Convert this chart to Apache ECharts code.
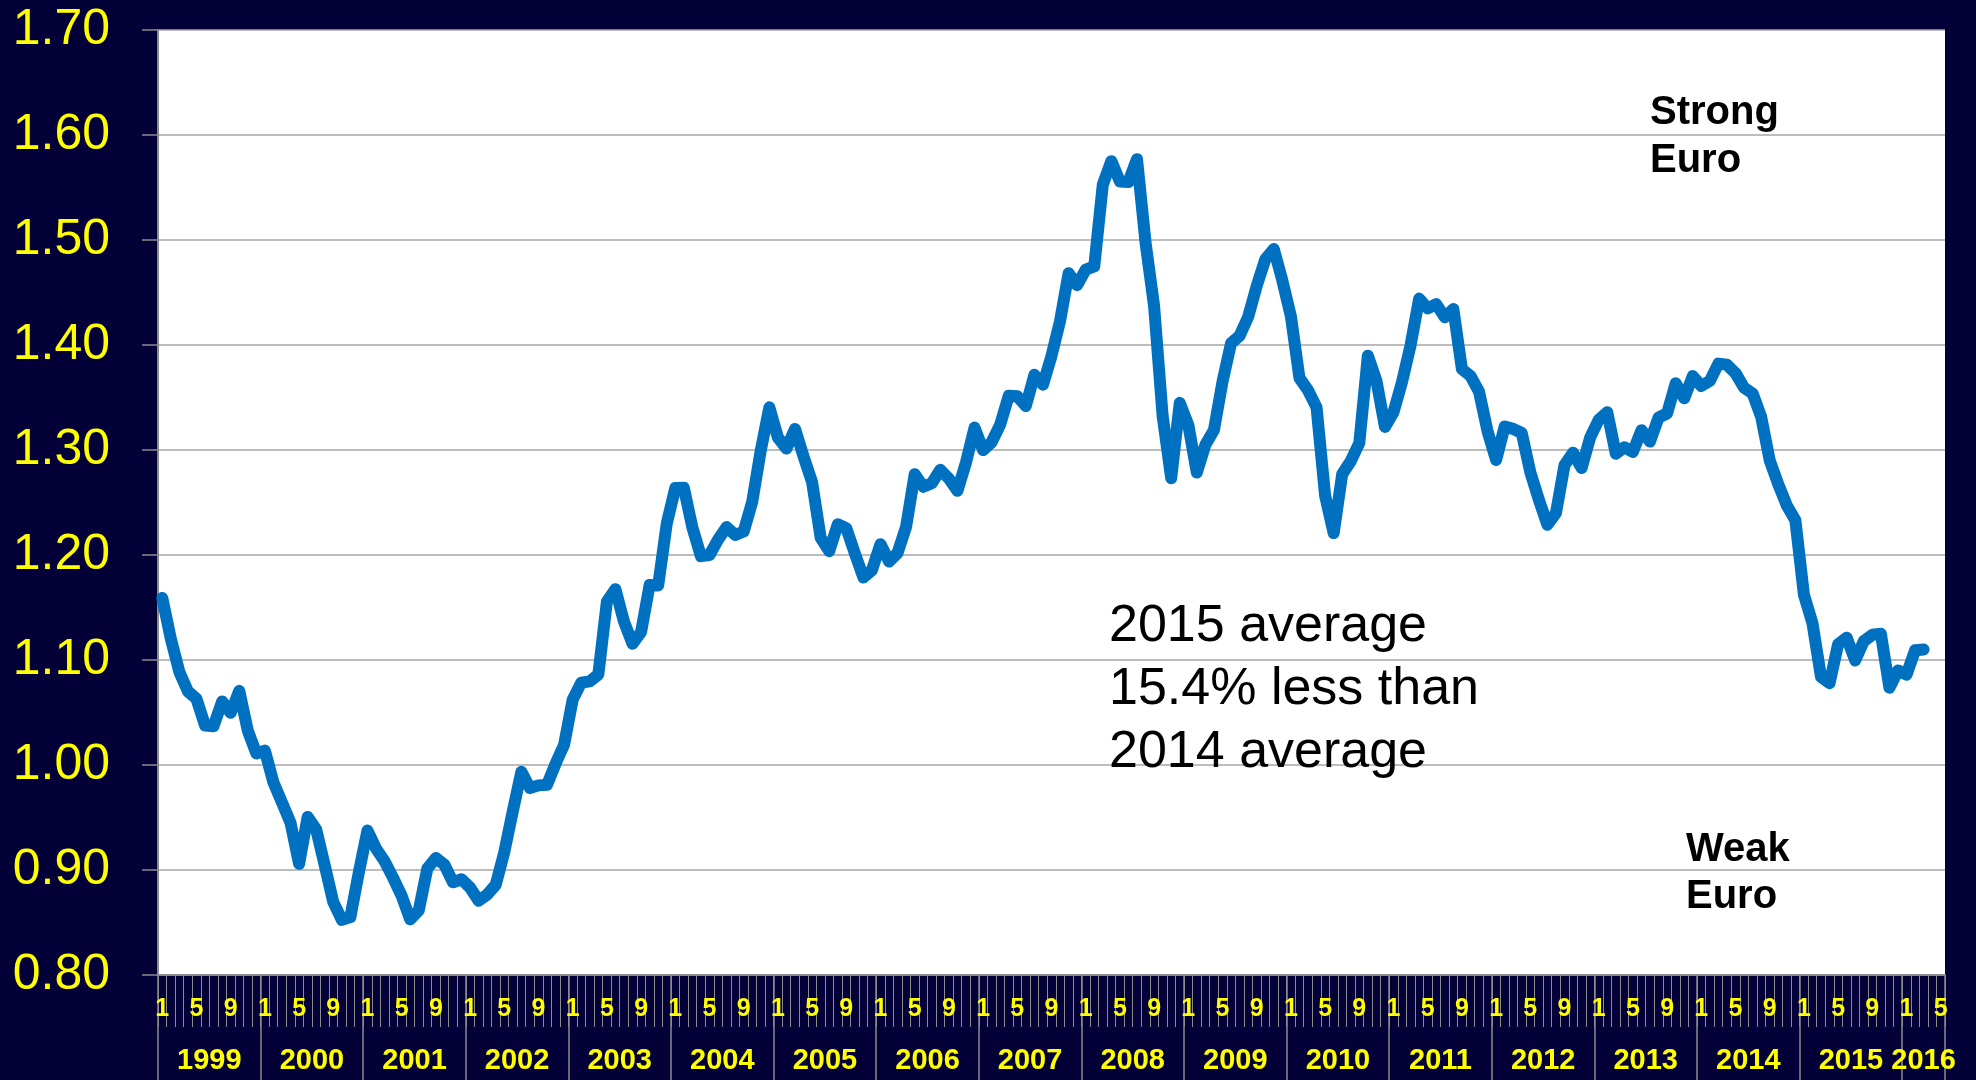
<!DOCTYPE html>
<html>
<head>
<meta charset="utf-8">
<script src="https://cdn.jsdelivr.net/npm/echarts@6/dist/echarts.min.js"></script>
<style>
  html, body { margin: 0; padding: 0; background: #040038; }
  #chart { width: 1976px; height: 1080px; }
</style>
</head>
<body>
<div id="chart"></div>
<script>
// ---- Data ----
const yearLabels = ['1999','2000','2001','2002','2003','2004','2005','2006','2007','2008','2009','2010','2011','2012','2013','2014','2015','2016'];
const monthsInYear = [12,12,12,12,12,12,12,12,12,12,12,12,12,12,12,12,12,5];
const monthLabels = ['1','2','3','4','5','6','7','8','9','10','11','12'];
const yTicks = [0.80, 0.90, 1.00, 1.10, 1.20, 1.30, 1.40, 1.50, 1.60, 1.70];

// USD per EUR, monthly averages, Jan 1999 - Mar 2016
const rates = [
  1.1591, 1.1203, 1.0886, 1.0701, 1.0630, 1.0377, 1.0370, 1.0605, 1.0497, 1.0706, 1.0328, 1.0110, // 1999
  1.0137, 0.9834, 0.9643, 0.9449, 0.9059, 0.9505, 0.9386, 0.9045, 0.8695, 0.8525, 0.8552, 0.8983, // 2000
  0.9376, 0.9205, 0.9083, 0.8925, 0.8753, 0.8530, 0.8615, 0.9014, 0.9114, 0.9050, 0.8883, 0.8912, // 2001
  0.8832, 0.8707, 0.8766, 0.8860, 0.9170, 0.9561, 0.9935, 0.9781, 0.9806, 0.9812, 1.0013, 1.0194, // 2002
  1.0622, 1.0785, 1.0797, 1.0862, 1.1556, 1.1674, 1.1365, 1.1155, 1.1267, 1.1714, 1.1710, 1.2298, // 2003
  1.2638, 1.2640, 1.2261, 1.1989, 1.2000, 1.2146, 1.2266, 1.2191, 1.2224, 1.2507, 1.2997, 1.3406, // 2004
  1.3119, 1.3014, 1.3201, 1.2938, 1.2694, 1.2165, 1.2037, 1.2292, 1.2256, 1.2015, 1.1786, 1.1856, // 2005
  1.2103, 1.1938, 1.2020, 1.2271, 1.2770, 1.2650, 1.2684, 1.2811, 1.2727, 1.2611, 1.2881, 1.3213, // 2006
  1.2999, 1.3074, 1.3242, 1.3516, 1.3511, 1.3419, 1.3716, 1.3622, 1.3896, 1.4227, 1.4684, 1.4570, // 2007
  1.4718, 1.4748, 1.5527, 1.5751, 1.5557, 1.5553, 1.5770, 1.4975, 1.4370, 1.3322, 1.2732, 1.3449, // 2008
  1.3239, 1.2785, 1.3050, 1.3190, 1.3650, 1.4016, 1.4088, 1.4268, 1.4562, 1.4816, 1.4914, 1.4614, // 2009
  1.4272, 1.3686, 1.3569, 1.3406, 1.2565, 1.2209, 1.2770, 1.2894, 1.3067, 1.3898, 1.3661, 1.3220, // 2010
  1.3360, 1.3649, 1.3999, 1.4442, 1.4349, 1.4388, 1.4264, 1.4343, 1.3770, 1.3706, 1.3556, 1.3179, // 2011
  1.2905, 1.3224, 1.3201, 1.3162, 1.2789, 1.2526, 1.2288, 1.2400, 1.2856, 1.2974, 1.2828, 1.3119, // 2012
  1.3288, 1.3359, 1.2964, 1.3026, 1.2982, 1.3189, 1.3080, 1.3310, 1.3348, 1.3635, 1.3493, 1.3704, // 2013
  1.3610, 1.3659, 1.3823, 1.3813, 1.3732, 1.3592, 1.3539, 1.3316, 1.2901, 1.2673, 1.2472, 1.2331, // 2014
  1.1621, 1.1350, 1.0838, 1.0779, 1.1150, 1.1213, 1.0996, 1.1180, 1.1240, 1.1250, 1.0736, 1.0900, // 2015
  1.0860, 1.1093, 1.1100                                                                          // 2016
];

const noteStrong = 'Strong\nEuro';
const noteWeak = 'Weak\nEuro';
const noteAvg = '2015 average\n15.4% less than\n2014 average';

// ---- Build axis structures from the arrays ----
const categories = [];
const yearStarts = [];
const yearCenters = [];
let acc = 0;
yearLabels.forEach((y, i) => {
  yearStarts.push(acc);
  yearCenters.push(acc + monthsInYear[i] / 2);
  for (let m = 0; m < monthsInYear[i]; m++) categories.push(y + '-' + monthLabels[m]);
  acc += monthsInYear[i];
});
yearStarts.push(acc);
const totalMonths = acc;

const FONT = "'Liberation Sans', Arial, sans-serif";
const YELLOW = '#FFFF00';
const AXIS_GRAY = '#8C8C8C';

const chart = echarts.init(document.getElementById('chart'), null, { renderer: 'canvas' });
chart.setOption({
  backgroundColor: '#040038',
  animation: false,
  grid: {
    left: 158, top: 30, right: 31, bottom: 105,
    show: true, backgroundColor: '#FFFFFF', borderWidth: 0,
    containLabel: false, outerBoundsMode: 'none'
  },
  xAxis: [
    {
      type: 'category',
      data: categories,
      boundaryGap: true,
      position: 'bottom',
      axisLine: { show: true, lineStyle: { color: AXIS_GRAY, width: 2 } },
      axisTick: { show: true, interval: 0, length: 52, lineStyle: { color: AXIS_GRAY, width: 1 } },
      axisLabel: {
        show: true, interval: 3, margin: 22,
        color: YELLOW, fontSize: 25, fontWeight: 'bold', fontFamily: FONT,
        formatter: (v) => v.split('-')[1]
      },
      splitLine: { show: false }
    },
    {
      type: 'value',
      min: 0, max: totalMonths,
      position: 'bottom',
      offset: 0,
      axisLine: { show: false },
      axisTick: { show: true, customValues: yearStarts, length: 105, lineStyle: { color: AXIS_GRAY, width: 1.5 } },
      axisLabel: {
        show: true, customValues: yearCenters, margin: 71,
        color: YELLOW, fontSize: 29, fontWeight: 'bold', fontFamily: FONT,
        formatter: (v) => { const i = yearCenters.indexOf(v); return i >= 0 ? yearLabels[i] : ''; }
      },
      splitLine: { show: false }
    }
  ],
  yAxis: {
    type: 'value',
    min: yTicks[0], max: yTicks[yTicks.length - 1], interval: 0.1,
    axisLine: { show: true, lineStyle: { color: AXIS_GRAY, width: 2 } },
    axisTick: { show: true, length: 16, lineStyle: { color: AXIS_GRAY, width: 1.5 } },
    axisLabel: {
      margin: 48, color: YELLOW, fontSize: 50, fontFamily: FONT,
      formatter: (v) => v.toFixed(2)
    },
    splitLine: { show: true, lineStyle: { color: '#A6A6A6', width: 1.5 } }
  },
  series: [{
    type: 'line',
    xAxisIndex: 0,
    data: rates,
    showSymbol: false,
    symbol: 'none',
    lineStyle: { color: '#0070C0', width: 12, cap: 'round', join: 'round' },
    z: 5
  }],
  graphic: [
    { type: 'text', left: 1650, top: 89, z: 10,
      style: { text: noteStrong, font: "bold 40px " + FONT, fill: '#000000', lineHeight: 48 } },
    { type: 'text', left: 1686, top: 826, z: 10,
      style: { text: noteWeak, font: "bold 40px " + FONT, fill: '#000000', lineHeight: 47 } },
    { type: 'text', left: 1109, top: 595, z: 10,
      style: { text: noteAvg, font: "52px " + FONT, fill: '#000000', lineHeight: 63 } }
  ]
});
</script>
</body>
</html>
